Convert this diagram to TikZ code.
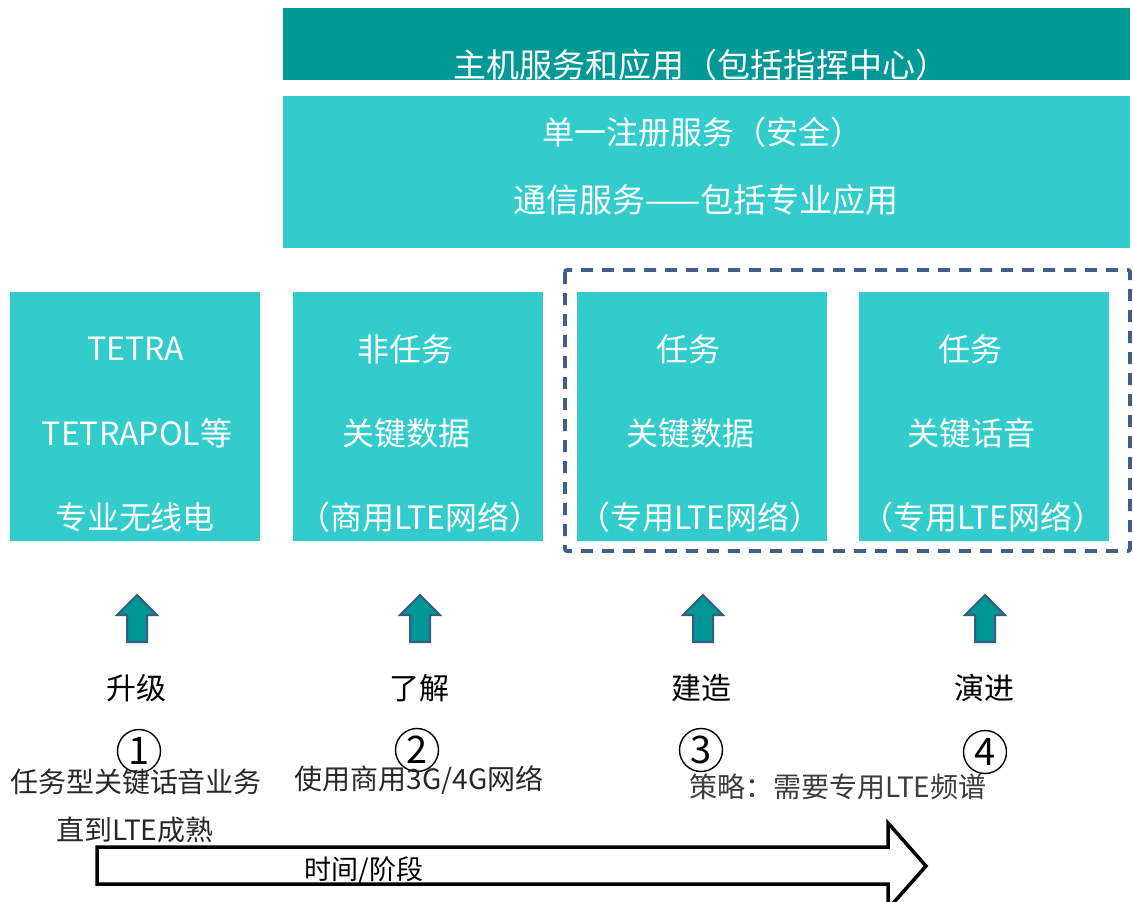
\documentclass[tikz,border=0pt]{standalone}
\usepackage{fontspec}
\setmainfont{Noto Sans CJK SC}
\definecolor{dteal}{RGB}{0,153,150}
\definecolor{lteal}{RGB}{51,204,204}
\definecolor{arrfill}{RGB}{0,150,150}
\definecolor{arredge}{RGB}{52,92,132}
\definecolor{dashblue}{RGB}{65,95,140}
\definecolor{txtgrey}{RGB}{40,40,40}
\begin{document}
\begin{tikzpicture}[x=1pt,y=-1pt,
  boxfill/.style={fill=lteal,draw=none,inner sep=0pt,anchor=north west},
  wtext/.style={text=white,font=\fontsize{32}{38}\selectfont,inner sep=0pt,anchor=center},
  btext/.style={text=txtgrey,font=\fontsize{28}{34}\selectfont,inner sep=0pt,anchor=center},
  ltext/.style={text=black,font=\fontsize{30}{36}\selectfont,inner sep=0pt,anchor=center},
  numcirc/.style={circle,draw=black,line width=1.4pt,minimum size=43pt,inner sep=0pt,text=black,font=\fontsize{38}{44}\selectfont},
  uparr/.style={fill=arrfill,draw=arredge,line width=2pt,line join=miter},
  bigarr/.style={fill=white,draw=black,line width=3.5pt,line join=miter}]
\useasboundingbox (0,0) rectangle (1133,902);

% top bars
\node[boxfill,fill=dteal,minimum width=847pt,minimum height=72pt] (host) at (283,8) {};
\node[wtext,font=\fontsize{33}{38}\selectfont] (hostt) at (701,65) {主机服务和应用（包括指挥中心）};
\node[boxfill,minimum width=847pt,minimum height=152pt] (svc) at (283,96) {};
\node[wtext] (svc1) at (702,132) {单一注册服务（安全）};
\node[wtext,font=\fontsize{33}{38}\selectfont] (svc2) at (706,200) {通信服务——包括专业应用};

% dashed frame
\draw[dashblue,line width=3.8pt,dash pattern=on 12pt off 9pt,rounded corners=2pt] (565,270) rectangle (1130,551);

% four boxes
\node[boxfill,minimum width=250pt,minimum height=249pt] (b1) at (10,292) {};
\node[boxfill,minimum width=250pt,minimum height=249pt] (b2) at (293,292) {};
\node[boxfill,minimum width=250pt,minimum height=249pt] (b3) at (577,292) {};
\node[boxfill,minimum width=250pt,minimum height=249pt] (b4) at (859,292) {};

\node[wtext] (b1a) at (136,349) {TETRA};
\node[wtext] (b1b) at (137,433) {TETRAPOL等};
\node[wtext] (b1c) at (135,517) {专业无线电};
\node[wtext] (b2a) at (405,349) {非任务};
\node[wtext] (b2b) at (406,433) {关键数据};
\node[wtext] (b2c) at (420,517) {（商用LTE网络）};
\node[wtext] (b3a) at (688,349) {任务};
\node[wtext] (b3b) at (690,433) {关键数据};
\node[wtext] (b3c) at (700,517) {（专用LTE网络）};
\node[wtext] (b4a) at (970,349) {任务};
\node[wtext] (b4b) at (971,433) {关键话音};
\node[wtext] (b4c) at (983,517) {（专用LTE网络）};

% up arrows
\foreach \n/\x in {1/137,2/420,3/703,4/985}{
  \coordinate (u\n) at (\x,595);
  \draw[uparr] (u\n) -- ++(20,20) -- ++(-10,0) -- ++(0,27) -- ++(-20,0) -- ++(0,-27) -- ++(-10,0) -- cycle;
}

% stage labels
\node[ltext] (l1) at (136,688) {升级};
\node[ltext] (l2) at (419,688) {了解};
\node[ltext] (l3) at (701,688) {建造};
\node[ltext] (l4) at (984,688) {演进};

% circled numbers
\node[numcirc] (n1) at (139,751) {1};
\node[numcirc] (n2) at (417,750) {2};
\node[numcirc] (n3) at (701,750) {3};
\node[numcirc] (n4) at (985,752) {4};

% notes
\node[btext] (t1) at (136,782) {任务型关键话音业务};
\node[btext] (t1b) at (135,830) {直到LTE成熟};
\node[btext] (t2) at (419,780) {使用商用3G/4G网络};
\node[btext,text={rgb,255:red,60;green,60;blue,60}] (t3) at (838,787) {策略：需要专用LTE频谱};

% time arrow
\coordinate (ta) at (97,847);
\draw[bigarr] (ta) -- (888,847) -- (888,823) -- (926,866) -- (888,909) -- (888,884) -- (97,884) -- cycle;
\node[btext,text=black,font=\fontsize{27}{32}\selectfont] (time) at (364,870) {时间/阶段};
\end{tikzpicture}
\end{document}
